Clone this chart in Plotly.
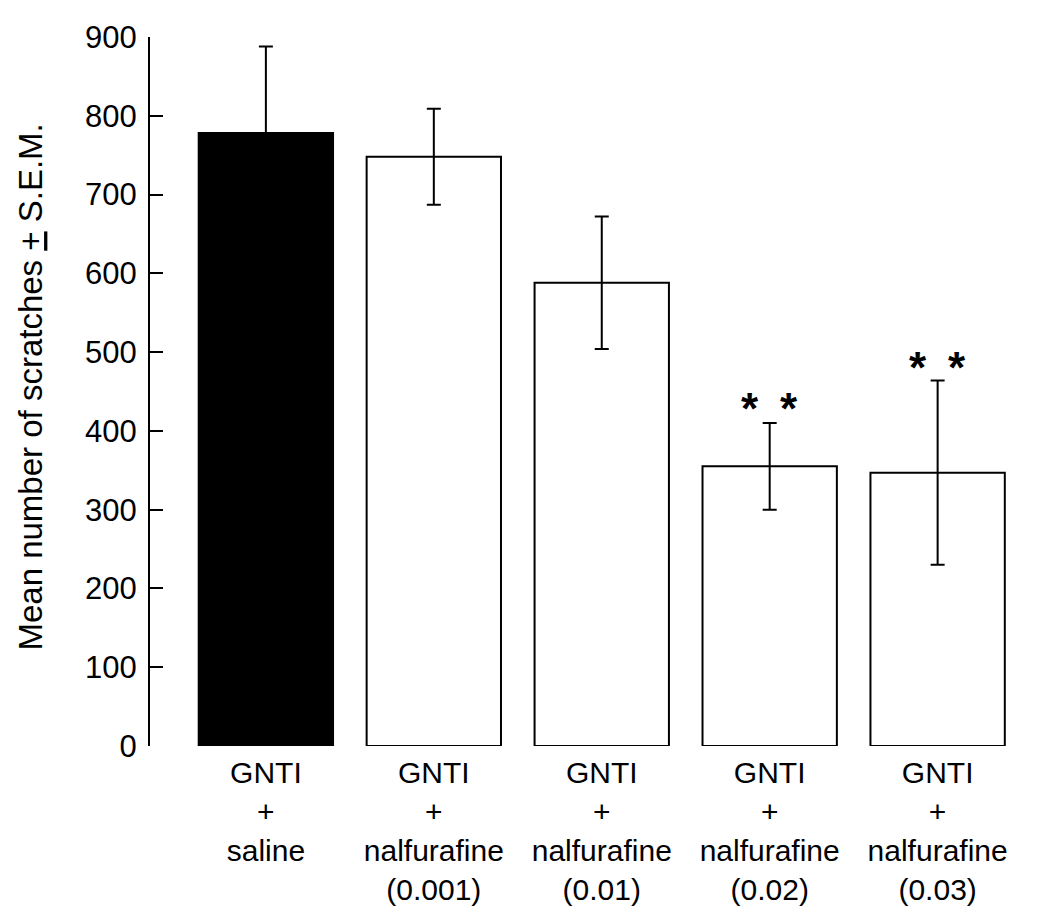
import plotly.graph_objects as go

categories = ["GNTI<br>+<br>saline", "GNTI<br>+<br>nalfurafine<br>(0.001)",
              "GNTI<br>+<br>nalfurafine<br>(0.01)", "GNTI<br>+<br>nalfurafine<br>(0.02)",
              "GNTI<br>+<br>nalfurafine<br>(0.03)"]
means = [778, 748, 588, 355, 347]
sem = [110, 61, 84, 55, 117]
fills = ["black", "white", "white", "white", "white"]
sig_labels = ["", "", "", "*", "*"]
sig_y = [None, None, None, 428, 480]

FONT = "Liberation Sans, Arial, sans-serif"
x_idx = list(range(len(categories)))

fig = go.Figure()
fig.add_trace(go.Bar(
    x=x_idx, y=means, width=0.8,
    marker=dict(color=fills, line=dict(color="black", width=2)),
    error_y=dict(type="data", array=sem, visible=True, color="black", thickness=2, width=7),
    showlegend=False,
))

annotations = []
for i, (lab, yy) in enumerate(zip(sig_labels, sig_y)):
    if lab:
        for dx in (-0.115, 0.115):
            annotations.append(dict(x=i + dx, y=yy, xref="x", yref="y", text="<b>" + lab + "</b>",
                                    showarrow=False, font=dict(family=FONT, size=44, color="black"),
                                    xanchor="center", yanchor="middle"))
annotations.append(dict(x=-0.136, y=0.506, xref="paper", yref="paper",
                        text="Mean number of scratches <u>+</u> S.E.M.", textangle=-90,
                        showarrow=False, font=dict(family=FONT, size=33, color="black"),
                        xanchor="center", yanchor="middle"))

fig.update_layout(
    width=1050, height=915,
    margin=dict(l=142, r=28, t=29, b=177),
    paper_bgcolor="white", plot_bgcolor="white",
    font=dict(family=FONT, size=30, color="black"),
    annotations=annotations,
    xaxis=dict(range=[-0.69, 4.55], tickmode="array", tickvals=x_idx, ticktext=categories,
               showline=False, showgrid=False, zeroline=False, ticks="",
               ticklabelstandoff=6,
               tickfont=dict(family=FONT, size=30, color="black")),
    yaxis=dict(range=[0, 900], tickvals=list(range(0, 901, 100)), showline=True,
               linecolor="black", linewidth=2, ticks="inside", ticklen=13, tickwidth=2,
               tickcolor="black", showgrid=False, zeroline=False, ticklabelstandoff=5,
               tickfont=dict(family=FONT, size=31, color="black")),
)

fig.write_html("out.html")
